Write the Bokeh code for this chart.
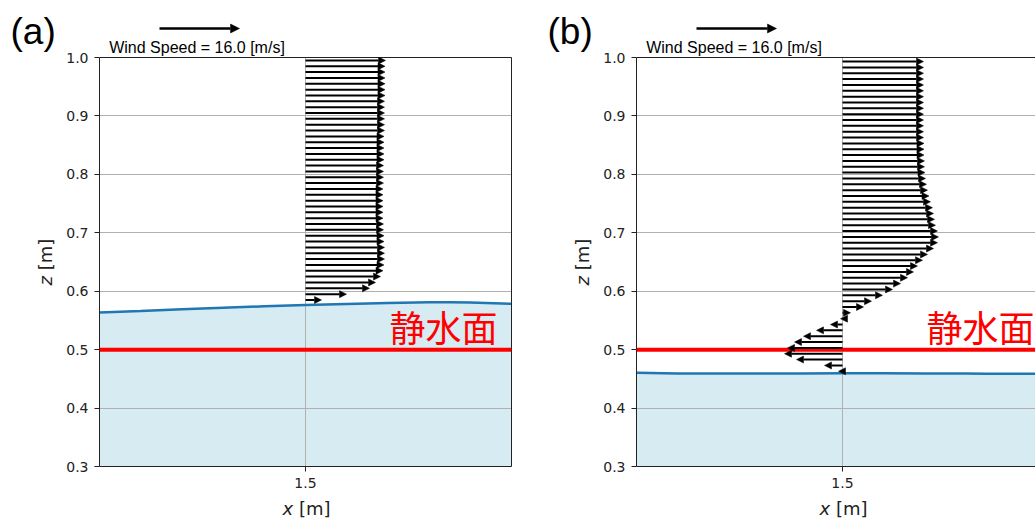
import math

from bokeh.plotting import figure
from bokeh.layouts import row, column
from bokeh.models import (ColumnDataSource, Arrow, NormalHead, Label, Span,
                          FixedTicker, PrintfTickFormatter, LinearAxis, Range1d)
from bokeh.embed import file_html
from bokeh.resources import INLINE

# ---------------------------------------------------------------- data
# free-surface elevation along the tank [m]
surf_x = [1.00, 1.10, 1.20, 1.30, 1.40, 1.50, 1.60, 1.70, 1.80, 1.85, 1.90, 2.00]
surf_a = [0.5635, 0.5660, 0.5690, 0.5718, 0.5742, 0.5762, 0.5782, 0.5800,
          0.5812, 0.5812, 0.5805, 0.5785]
surf_b = [0.4605, 0.4592, 0.4590, 0.4591, 0.4593, 0.4595, 0.4594, 0.4592,
          0.4590, 0.4589, 0.4588, 0.4587]

# horizontal air velocity profile at the probe x = 1.5 m
z_a = [0.585, 0.595, 0.605, 0.615, 0.625, 0.635, 0.645, 0.655, 0.665, 0.675,
       0.685, 0.695, 0.705, 0.715, 0.725, 0.735, 0.745, 0.755, 0.765, 0.775,
       0.785, 0.795, 0.805, 0.815, 0.825, 0.835, 0.845, 0.855, 0.865, 0.875,
       0.885, 0.895, 0.905, 0.915, 0.925, 0.935, 0.945, 0.955, 0.965, 0.975,
       0.985, 0.995]
u_a = [3.2, 8.2, 12.8, 14.0, 15.0, 15.5, 15.7, 15.8, 15.8, 15.8,
       15.7, 15.7, 15.6, 15.6, 15.5, 15.5, 15.5, 15.5, 15.5, 15.5,
       15.6, 15.6, 15.6, 15.6, 15.7, 15.7, 15.7, 15.7, 15.7, 15.8,
       15.8, 15.8, 15.8, 15.8, 15.8, 15.9, 15.9, 15.9, 15.9, 15.9,
       15.9, 16.0]

z_b = [0.463, 0.473, 0.483, 0.493, 0.503, 0.513, 0.523, 0.533, 0.543, 0.553,
       0.563, 0.573, 0.583, 0.593, 0.603, 0.613, 0.623, 0.633, 0.643, 0.653,
       0.663, 0.673, 0.683, 0.693, 0.703, 0.713, 0.723, 0.733, 0.743, 0.753,
       0.763, 0.773, 0.783, 0.793, 0.803, 0.813, 0.823, 0.833, 0.843, 0.853,
       0.863, 0.873, 0.883, 0.893, 0.903, 0.913, 0.923, 0.933, 0.943, 0.953,
       0.963, 0.973, 0.983, 0.993]
u_b = [-0.8, -3.6, -9.2, -11.6, -11.0, -9.6, -7.8, -5.2, -2.4, -0.4,
       1.6, 4.2, 5.8, 8.0, 10.0, 11.6, 13.0, 14.2, 15.0, 16.0,
       17.0, 18.2, 19.0, 19.2, 19.0, 18.6, 18.4, 18.2, 18.0, 17.6,
       17.3, 17.0, 16.8, 16.6, 16.5, 16.4, 16.4, 16.3, 16.3, 16.3,
       16.2, 16.2, 16.2, 16.2, 16.2, 16.2, 16.2, 16.2, 16.2, 16.2,
       16.2, 16.2, 16.2, 16.2]

probe_x = 1.5
ref_speed = 16.0
still_level = 0.5
x_ticks = [1.5]
z_ticks = [0.3, 0.4, 0.5, 0.6, 0.7, 0.8, 0.9, 1.0]
panel_tags = ["(a)", "(b)"]
still_label = "静水面"

# ---------------------------------------------------------------- layout
PAGE_W, PAGE_H = 1035, 518
X0, X1 = 1.0, 2.0
Z0, Z1 = 0.3, 1.0
FRAME_W, FRAME_H = 412, 409
BORDER_TOP, BORDER_BOTTOM = 57, 52
PX_PER_MS = 5.0                                # arrow length per m/s on screen
U_SCALE = PX_PER_MS * (X1 - X0) / FRAME_W      # x data units per m/s

W_A = 540
W_B = PAGE_W - W_A
BL_A, BL_B = 99, 96
FRAME_LEFTS = [BL_A, W_A + BL_B]               # frame left edges on the page

AX_COLOR = "#222222"
TEXT_FONT = "DejaVu Sans"


def spine(ax_loc, p):
    ax = LinearAxis(ticker=FixedTicker(ticks=[]), major_label_text_font_size="0px",
                    major_tick_line_color=None, minor_tick_line_color=None,
                    axis_line_color=AX_COLOR, axis_line_width=1)
    p.add_layout(ax, ax_loc)


def make_panel(z, u, surf, width, border_left, border_right, x_end, right_spine):
    p = figure(width=width, height=PAGE_H, x_range=Range1d(X0, x_end),
               y_range=Range1d(Z0, Z1), output_backend="svg",
               toolbar_location=None, min_border_left=border_left,
               min_border_right=border_right, min_border_top=BORDER_TOP,
               min_border_bottom=BORDER_BOTTOM, outline_line_color=None,
               background_fill_color="white", border_fill_color="white")

    for ax in (p.xaxis[0], p.yaxis[0]):
        ax.axis_line_color = AX_COLOR
        ax.axis_line_width = 1
        ax.major_tick_line_color = AX_COLOR
        ax.major_tick_out = 5
        ax.major_tick_in = 0
        ax.minor_tick_line_color = None
        ax.major_label_text_font = TEXT_FONT
        ax.major_label_text_font_size = "14px"
        ax.major_label_text_color = AX_COLOR
        ax.major_label_standoff = 6
        ax.formatter = PrintfTickFormatter(format="%.1f")
    p.xaxis[0].ticker = FixedTicker(ticks=x_ticks)
    p.yaxis[0].ticker = FixedTicker(ticks=z_ticks)

    spine("above", p)
    if right_spine:
        spine("right", p)

    p.xgrid.ticker = FixedTicker(ticks=x_ticks)
    p.ygrid.ticker = FixedTicker(ticks=z_ticks)
    for g in (p.xgrid[0], p.ygrid[0]):
        g.grid_line_color = "#b0b0b0"
        g.grid_line_width = 1

    # water body and its free surface
    p.varea(x=surf_x, y1=Z0, y2=surf, fill_color="lightblue", fill_alpha=0.5,
            level="image")
    p.line(surf_x, surf, line_color="#1f77b4", line_width=2.5)

    # still-water level
    p.add_layout(Span(location=still_level, dimension="width",
                      line_color="red", line_width=4))

    # velocity vectors
    src = ColumnDataSource(dict(
        x0=[probe_x] * len(z),
        z=z,
        x1=[probe_x + U_SCALE * v for v in u],
    ))
    p.add_layout(Arrow(x_start="x0", y_start="z", x_end="x1", y_end="z",
                       source=src, line_color="black", line_width=2,
                       end=NormalHead(size=7, fill_color="black",
                                      line_color="black", line_width=0.5)))
    return p


pa = make_panel(z_a, u_a, surf_a, W_A, BL_A, W_A - BL_A - FRAME_W, X1, True)
pb = make_panel(z_b, u_b, surf_b, W_B, BL_B, 0,
                X0 + (W_B - BL_B) * (X1 - X0) / FRAME_W, False)

# ------------------------------------------------- text layer over both panels
# page-pixel coordinates, y growing downwards
ov = figure(width=PAGE_W, height=PAGE_H, x_range=Range1d(0, PAGE_W),
            y_range=Range1d(PAGE_H, 0), output_backend="svg",
            toolbar_location=None, x_axis_location=None, y_axis_location=None,
            min_border=0, outline_line_color=None,
            background_fill_alpha=0, border_fill_alpha=0)
ov.xgrid.visible = False
ov.ygrid.visible = False
ov.margin = (-PAGE_H, 0, 0, 0)

probe_px = FRAME_W * (probe_x - X0) / (X1 - X0)     # probe offset in the frame
key_dx = 60                                          # key arrow start in frame
key_len = PX_PER_MS * ref_speed

for tag, left in zip(panel_tags, FRAME_LEFTS):
    ov.add_layout(Label(x=left - 89, y=31, text=tag, text_font="Liberation Sans",
                        text_font_size="37px", text_color="black",
                        text_align="left", text_baseline="middle"))
    kx = left + key_dx
    ksrc = ColumnDataSource(dict(x0=[kx], y=[28], x1=[kx + key_len]))
    ov.add_layout(Arrow(x_start="x0", y_start="y", x_end="x1", y_end="y",
                        source=ksrc, line_color="black", line_width=2.5,
                        end=NormalHead(size=9, fill_color="black",
                                       line_color="black", line_width=0.5)))
    ov.add_layout(Label(x=kx + key_len / 2 - 2.5, y=47,
                        text=f"Wind Speed = {ref_speed:.1f} [m/s]",
                        text_font="Liberation Sans", text_font_size="16px",
                        text_color="black", text_align="center",
                        text_baseline="middle"))
    ov.add_layout(Label(x=left + 398, y=325, text=still_label,
                        text_font="Noto Sans CJK JP", text_font_size="36px",
                        text_color="red", text_align="right",
                        text_baseline="middle"))

    lab = dict(text_font=TEXT_FONT, text_font_size="18px", text_color=AX_COLOR,
               text_baseline="middle", text_align="left")
    cx = left + probe_px
    ov.add_layout(Label(x=cx - 23, y=508, text="x", text_font_style="italic",
                        **lab))
    ov.add_layout(Label(x=cx - 6.6, y=508, text="[m]", **lab))
    ov.add_layout(Label(x=left - 54, y=285, text="z", angle=math.pi / 2,
                        text_font_style="italic", **lab))
    ov.add_layout(Label(x=left - 54, y=269.8, text="[m]", angle=math.pi / 2,
                        **lab))

layout = column(row(pa, pb), ov)
open("out.html", "w").write(file_html(layout, INLINE))
